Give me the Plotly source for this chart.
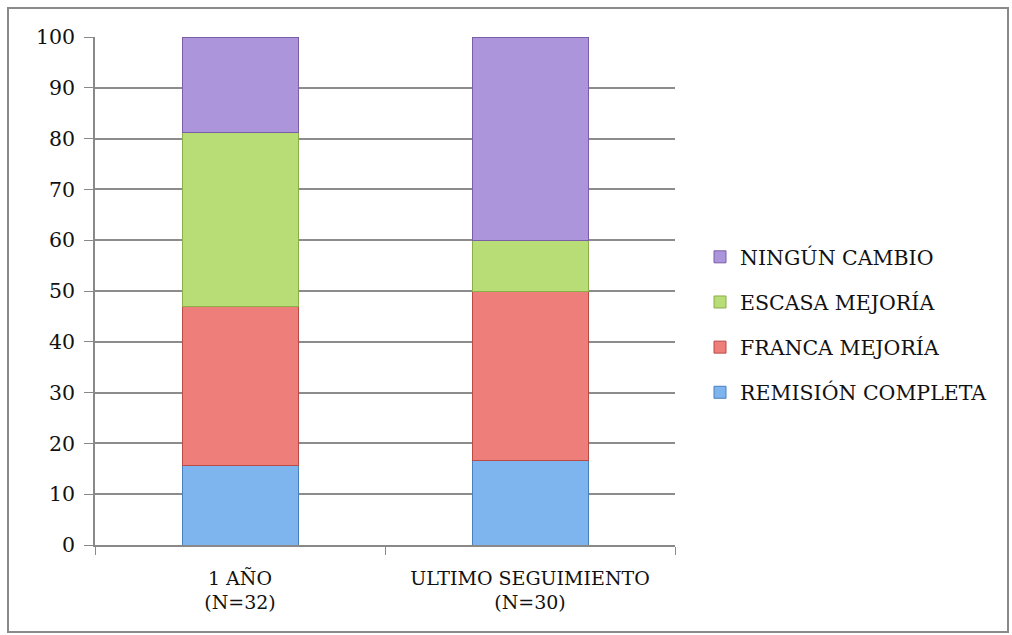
import plotly.graph_objects as go

categories = ["1 AÑO<br>(N=32)", "ULTIMO SEGUIMIENTO<br>(N=30)"]
series_names = ["REMISIÓN COMPLETA", "FRANCA MEJORÍA", "ESCASA MEJORÍA", "NINGÚN CAMBIO"]
remision = [15.6, 16.7]
franca = [31.3, 33.3]
escasa = [34.4, 10.0]
ninguno = [18.7, 40.0]
series_values = [remision, franca, escasa, ninguno]
colors = ["#7EB5EE", "#EE7E79", "#B8DC76", "#AD95DB"]
edges = ["#4A7FBE", "#B94B47", "#8BAE48", "#7A5EA8"]

fig = go.Figure()
for i, (name, vals) in enumerate(zip(series_names, series_values)):
    fig.add_trace(go.Bar(
        x=categories, y=vals, name=name,
        marker=dict(color=colors[i], line=dict(color=edges[i], width=1)),
        legendgroup=name, legendrank=10 - i, width=0.4,
    ))

W, H = 1012, 635
L, R, T, B = 95, 675, 37, 545
pw, ph = R - L, B - T

fig.update_layout(
    barmode="stack",
    width=W, height=H,
    margin=dict(l=L, r=W - R, t=T, b=H - B),
    paper_bgcolor="white", plot_bgcolor="white",
    font=dict(family="DejaVu Serif, Liberation Serif, serif", size=20, color="#111111"),
    legend=dict(
        x=(700 - L) / pw, y=(B - 237) / ph, xanchor="left", yanchor="top",
        traceorder="grouped", tracegroupgap=15.5,
        font=dict(size=20.5), itemwidth=30,
    ),
    xaxis=dict(
        showline=True, linecolor="#898989", linewidth=1.5,
        ticks="outside", tickson="boundaries", ticklen=8, tickcolor="#898989",
        tickfont=dict(size=19), ticklabelstandoff=15,
    ),
    yaxis=dict(
        range=[0, 100], dtick=10, showgrid=True, gridcolor="#8C8C8C", gridwidth=1.5,
        showline=True, linecolor="#898989", linewidth=1.5,
        ticks="outside", ticklen=9, tickcolor="#898989",
        tickfont=dict(size=20.5), zeroline=False, ticklabelstandoff=5,
    ),
    shapes=[dict(
        type="rect", xref="paper", yref="paper",
        x0=(8 - L) / pw, x1=(1008 - L) / pw,
        y0=(B - 632) / ph, y1=(B - 8) / ph,
        line=dict(color="#8A8A8A", width=2), layer="below",
    )],
)

fig.write_html("out.html")
